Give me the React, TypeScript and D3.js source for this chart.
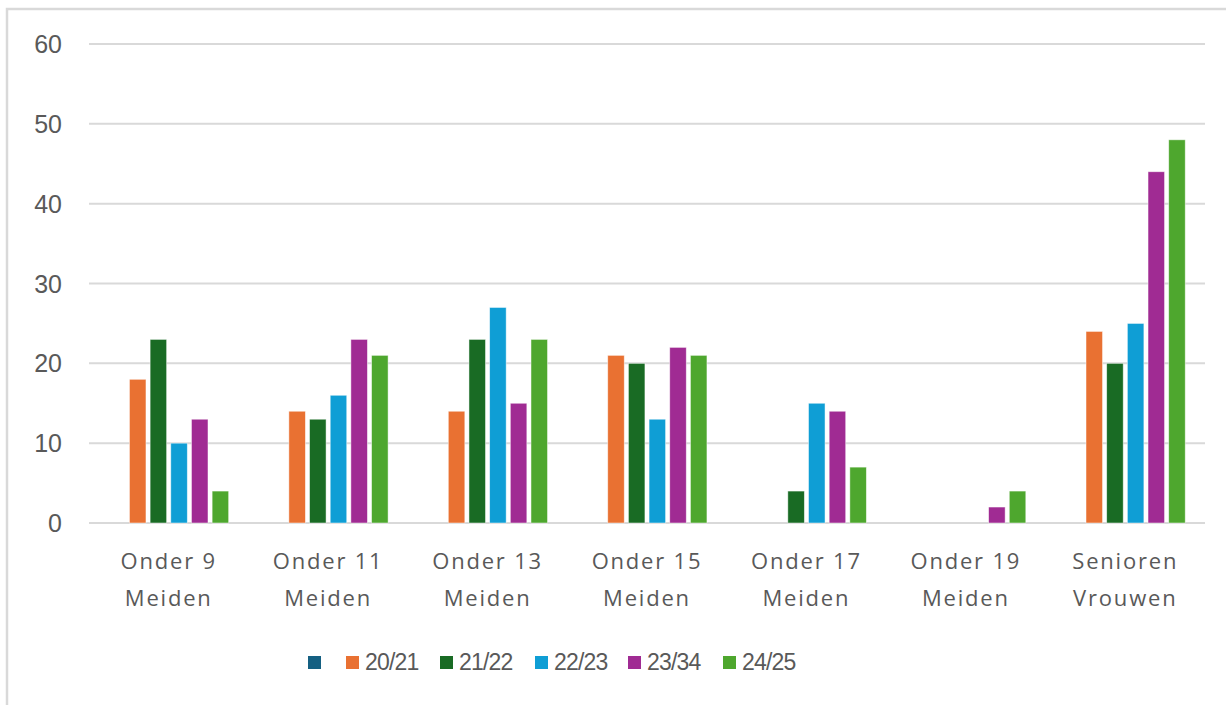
import * as d3 from 'd3';
import React, { useEffect, useRef } from 'react';

const categories = [
    ['Onder 9', 'Meiden'],
    ['Onder 11', 'Meiden'],
    ['Onder 13', 'Meiden'],
    ['Onder 15', 'Meiden'],
    ['Onder 17', 'Meiden'],
    ['Onder 19', 'Meiden'],
    ['Senioren', 'Vrouwen'],
];
const seriesNames = ['', '20/21', '21/22', '22/23', '23/34', '24/25'];
const seriesColors = ['#156082', '#e97132', '#196b24', '#0f9ed5', '#a02b93', '#4ea72e'];
const blank = [0, 0, 0, 0, 0, 0, 0];
const s2021 = [18, 14, 14, 21, 0, 0, 24];
const s2122 = [23, 13, 23, 20, 4, 0, 20];
const s2223 = [10, 16, 27, 13, 15, 0, 25];
const s2334 = [13, 23, 15, 22, 14, 2, 44];
const s2425 = [4, 21, 23, 21, 7, 4, 48];
const yTicks = [0, 10, 20, 30, 40, 50, 60];

const W = 1226, H = 705;
const margin = { top: 44, right: 21, bottom: 182, left: 89 };

const App = () => {
    const ref = useRef<SVGSVGElement>(null);

    useEffect(() => {
        const values = [blank, s2021, s2122, s2223, s2334, s2425];
        const svg = d3.select(ref.current);
        svg.selectAll('*').remove();

        // chart frame
        svg.append('rect')
            .attr('x', 7).attr('y', 9)
            .attr('width', 1260).attr('height', 740)
            .attr('fill', 'white')
            .attr('stroke', '#d9d9d9')
            .attr('stroke-width', 2.5);

        const innerW = W - margin.left - margin.right;
        const innerH = H - margin.top - margin.bottom;
        const g = svg.append('g').attr('transform', `translate(${margin.left},${margin.top})`);

        const catKeys = categories.map(c => c.join(' '));
        const x0 = d3.scaleBand().domain(catKeys).range([0, innerW]).padding(0);
        const cw = x0.bandwidth();
        const groupW = cw * 0.778;
        const x1 = d3.scaleBand<number>()
            .domain(d3.range(seriesNames.length))
            .range([(cw - groupW) / 2, (cw + groupW) / 2])
            .paddingInner(0.2).paddingOuter(0.1);
        const y = d3.scaleLinear().domain([0, 60]).range([innerH, 0]);

        // gridlines
        g.selectAll('line.grid').data(yTicks).join('line')
            .attr('class', 'grid')
            .attr('x1', 0).attr('x2', innerW)
            .attr('y1', d => y(d)).attr('y2', d => y(d))
            .attr('stroke', '#d9d9d9').attr('stroke-width', 2);

        // y labels
        g.selectAll('text.ylab').data(yTicks).join('text')
            .attr('class', 'ylab')
            .attr('x', -27).attr('y', d => y(d))
            .attr('dy', '0.36em')
            .attr('text-anchor', 'end')
            .attr('fill', '#595959')
            .style('font-family', '"Liberation Sans", Arial, sans-serif')
            .style('font-size', '25px')
            .text(d => d);

        // bars
        values.forEach((vals, si) => {
            g.selectAll(`rect.s${si}`).data(vals).join('rect')
                .attr('class', `s${si}`)
                .attr('x', (d, i) => (x0(catKeys[i]) as number) + (x1(si) as number))
                .attr('y', d => y(d))
                .attr('width', x1.bandwidth())
                .attr('height', d => innerH - y(d))
                .attr('fill', seriesColors[si])
                .attr('stroke', d => d > 0 ? 'rgba(255,255,255,0.6)' : 'none')
                .attr('stroke-width', 0.8);
        });

        // category labels
        const xl = g.selectAll('text.xlab').data(categories).join('text')
            .attr('class', 'xlab')
            .attr('x', (d, i) => (x0(catKeys[i]) as number) + cw / 2)
            .attr('y', innerH + 46)
            .attr('text-anchor', 'middle')
            .attr('fill', '#595959')
            .style('font-family', '"Open Sans", sans-serif')
            .style('font-size', '22px')
            .style('letter-spacing', '1.8px');
        xl.selectAll('tspan').data(d => d).join('tspan')
            .attr('x', function () { return (this.parentNode as SVGTextElement).getAttribute('x'); })
            .attr('dy', (d, i) => i === 0 ? 0 : 37)
            .text(d => d);

        // legend
        const legendX = [308, 346, 440, 535, 628, 723];
        const lg = svg.append('g').attr('transform', 'translate(0,662)');
        seriesNames.forEach((name, i) => {
            lg.append('rect')
                .attr('x', legendX[i]).attr('y', -6)
                .attr('width', 13).attr('height', 13)
                .attr('fill', seriesColors[i]);
            lg.append('text')
                .attr('x', legendX[i] + 19).attr('y', 0)
                .attr('dy', '0.36em')
                .attr('fill', '#595959')
                .style('font-family', '"Liberation Sans", Arial, sans-serif')
                .style('font-size', '23px')
                .style('letter-spacing', '-0.8px')
                .text(name);
        });
    }, []);

    return <svg ref={ref} width={W} height={H}
        style={{ position: 'absolute', left: 0, top: 0, background: 'white' }} />;
};

export default App;
